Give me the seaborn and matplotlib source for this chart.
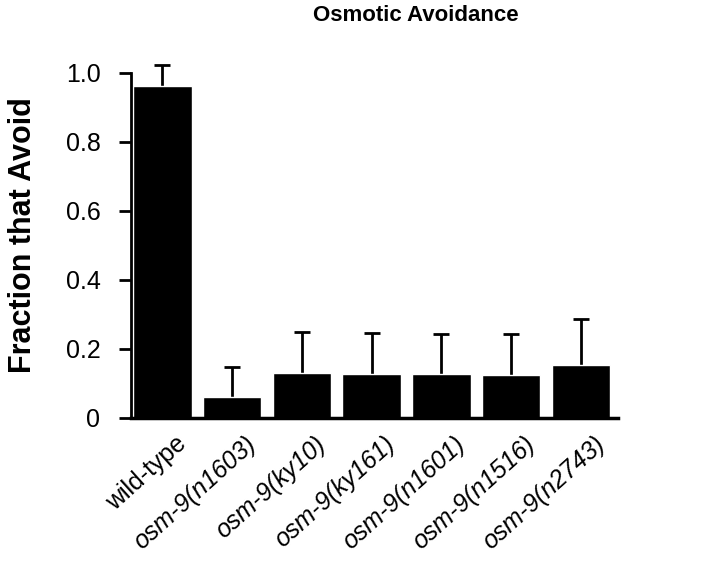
import numpy as np
import matplotlib
matplotlib.use("Agg")
import matplotlib.pyplot as plt
import matplotlib.transforms as mtransforms
import seaborn as sns

# Data
strains = ["wild-type", "osm-9(n1603)", "osm-9(ky10)", "osm-9(ky161)",
           "osm-9(n1601)", "osm-9(n1516)", "osm-9(n2743)"]
fraction = [0.962, 0.062, 0.130, 0.128, 0.126, 0.125, 0.154]
err_up = [0.061, 0.086, 0.119, 0.118, 0.118, 0.118, 0.133]
yticks = [0, 0.2, 0.4, 0.6, 0.8, 1.0]
ytick_labels = ["0", "0.2", "0.4", "0.6", "0.8", "1.0"]

sns.set_style("ticks")
plt.rcParams["font.family"] = ["Liberation Sans", "DejaVu Sans"]
for key in ["text.color", "axes.labelcolor", "xtick.color", "ytick.color",
            "axes.edgecolor"]:
    plt.rcParams[key] = "black"

fig = plt.figure(figsize=(7.2, 5.64), dpi=100)
ax = fig.add_axes([0.182, 0.259, 0.676, 0.612])

sns.barplot(x=strains, y=fraction, color="black", width=0.84,
            saturation=1, ax=ax)
# only the upper half of the error bar shows; the lower part hides in the bar
vals = np.array(fraction)
ax.errorbar(np.arange(len(strains)), vals,
            yerr=[vals / 2, err_up],
            fmt="none", ecolor="black", elinewidth=2, capsize=6,
            capthick=2, clip_on=False, zorder=0)

ax.set_ylim(0, 1.0)
ax.set_xlim(-0.45, 6.53)
ax.set_yticks(yticks)
ax.set_yticklabels(ytick_labels, fontsize=18)
ax.tick_params(axis="y", length=9, width=2, pad=13)
ax.tick_params(axis="x", length=0, pad=10)
ax.set_xticks(range(len(strains)))
ax.set_xticklabels(strains, rotation=42, ha="right",
                   rotation_mode="anchor", fontsize=18)
shift = mtransforms.ScaledTranslation(9 / 72, 0, fig.dpi_scale_trans)
for i, lab in enumerate(ax.get_xticklabels()):
    lab.set_transform(lab.get_transform() + shift)
    if i > 0:
        lab.set_fontstyle("italic")

sns.despine(ax=ax)
ax.spines["left"].set_linewidth(2)
ax.spines["bottom"].set_linewidth(2.5)

ax.set_xlabel("")
ax.set_ylabel("Fraction that Avoid", fontsize=22, fontweight="bold")
ax.yaxis.set_label_coords(-0.192, 0.53)
fig.text(0.577, 0.992, "Osmotic Avoidance", ha="center", va="top",
         fontsize=16, fontweight="bold")

fig.savefig("out.png", dpi=100)
